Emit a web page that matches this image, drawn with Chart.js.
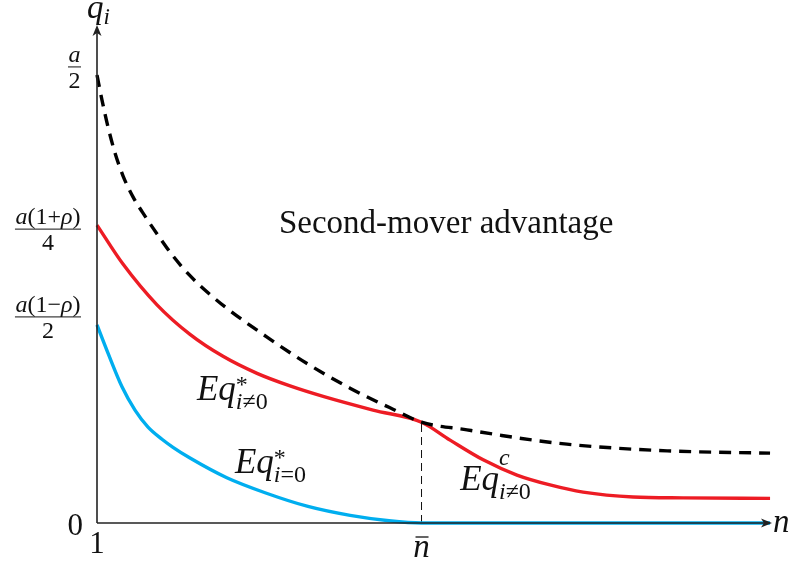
<!DOCTYPE html>
<html>
<head>
<meta charset="utf-8">
<script src="https://cdn.jsdelivr.net/npm/chart.js@4"></script>
<style>
  body { margin: 0; background: #fff; }
  #chart { display: block; }
</style>
</head>
<body>
<canvas id="chart" width="794" height="566"></canvas>
<script>
// values (n on x, q_i on y, a/2 = 1)
const nBound = [1, 1.154, 1.339, 1.555, 1.801, 2.109, 2.479, 2.941, 3.342, 3.866, 4.421, 5.006, 6.239, 7.471, 8.797, 10.12, 11, 12.4, 13.42, 14.44, 15.48, 17.02, 18.57, 20.1, 21.74];
const qBound = [1.0, 0.944, 0.884, 0.826, 0.775, 0.728, 0.685, 0.636, 0.596, 0.552, 0.514, 0.479, 0.415, 0.356, 0.301, 0.254, 0.225, 0.208, 0.196, 0.185, 0.176, 0.167, 0.161, 0.158, 0.156];

const nOthers = [1, 1.801, 2.849, 3.866, 4.883, 5.931, 6.948, 7.995, 9.505, 11, 11.88, 12.9, 13.94, 14.96, 15.98, 17.52, 19.06, 21.74];
const qOthers = [0.665, 0.578, 0.487, 0.421, 0.372, 0.334, 0.306, 0.282, 0.252, 0.225, 0.185, 0.141, 0.107, 0.085, 0.069, 0.058, 0.056, 0.055];

const nFirst = [1, 1.339, 1.77, 2.171, 2.572, 3.003, 3.342, 3.866, 5.0, 6.2, 7.5, 8.8, 10, 11, 21.74];
const qFirst = [0.442, 0.379, 0.304, 0.252, 0.214, 0.187, 0.169, 0.145, 0.101, 0.067, 0.037, 0.017, 0.005, 0, 0];

const nBar = 11;       // n-bar, where the curves meet
const qMeet = 0.225;

const yTickVals = [1.018, 0.656, 0.46];
const yTickLabels = [["a", "2"], ["a(1+ρ)", "4"], ["a(1−ρ)", "2"]];

const toPts = (xs, ys) => xs.map((x, i) => ({ x: x, y: ys[i] }));

const SERIF = '"Liberation Serif", "DejaVu Serif", serif';

// draw a run of pieces: [text, italic, size, dy, keepX]
function runs(ctx, x, y, parts) {
  let cx = x;
  for (const p of parts) {
    ctx.font = (p[1] ? 'italic ' : '') + p[2] + 'px ' + SERIF;
    ctx.fillText(p[0], cx, y + (p[3] || 0));
    if (!p[4]) cx += ctx.measureText(p[0]).width;
  }
  return cx - x;
}

// numerator with italic a and rho
function numParts(s, size) {
  return s.split('').map(ch => [ch, ch === 'a' || ch === 'ρ', size]);
}

function widthOf(ctx, parts) {
  let w = 0;
  for (const p of parts) {
    ctx.font = (p[1] ? 'italic ' : '') + p[2] + 'px ' + SERIF;
    if (!p[4]) w += ctx.measureText(p[0]).width;
  }
  return w;
}

const axesAndText = {
  id: 'axesAndText',
  afterDatasetsDraw(chart) {
    const ctx = chart.ctx;
    const xs = chart.scales.x, ys = chart.scales.y;
    const ca = chart.chartArea;
    const x0 = xs.getPixelForValue(1), y0 = ys.getPixelForValue(0);
    ctx.save();
    ctx.strokeStyle = '#222';
    ctx.fillStyle = '#222';
    ctx.lineWidth = 1.6;
    // x axis
    ctx.beginPath();
    ctx.moveTo(x0, y0);
    ctx.lineTo(ca.right - 6, y0);
    ctx.stroke();
    ctx.beginPath();
    ctx.moveTo(ca.right, y0);
    ctx.lineTo(ca.right - 11, y0 - 4.5);
    ctx.lineTo(ca.right - 8, y0);
    ctx.lineTo(ca.right - 11, y0 + 4.5);
    ctx.closePath();
    ctx.fill();
    // y axis
    ctx.beginPath();
    ctx.moveTo(x0, y0);
    ctx.lineTo(x0, ca.top + 6);
    ctx.stroke();
    ctx.beginPath();
    ctx.moveTo(x0, ca.top);
    ctx.lineTo(x0 - 4.5, ca.top + 11);
    ctx.lineTo(x0, ca.top + 8);
    ctx.lineTo(x0 + 4.5, ca.top + 11);
    ctx.closePath();
    ctx.fill();
    ctx.restore();
  },
  afterDraw(chart) {
    const ctx = chart.ctx;
    const xs = chart.scales.x, ys = chart.scales.y;
    const ca = chart.chartArea;
    const x0 = xs.getPixelForValue(1), y0 = ys.getPixelForValue(0);
    ctx.save();
    ctx.fillStyle = '#111';
    ctx.strokeStyle = '#111';
    ctx.textBaseline = 'alphabetic';
    ctx.textAlign = 'left';

    // axis titles
    runs(ctx, x0 - 10, ca.top - 7, [['q', true, 33], ['i', true, 23, 6]]);
    runs(ctx, ca.right + 1, y0 + 9, [['n', true, 33]]);

    // tick labels on x
    ctx.textAlign = 'center';
    ctx.font = '31px ' + SERIF;
    ctx.fillText('1', x0, y0 + 30);
    const xb = xs.getPixelForValue(nBar);
    ctx.font = 'italic 33px ' + SERIF;
    ctx.fillText('n', xb, y0 + 34);
    ctx.lineWidth = 1.3;
    ctx.beginPath();
    ctx.moveTo(xb - 6, y0 + 14);
    ctx.lineTo(xb + 7, y0 + 14);
    ctx.stroke();

    // tick labels on y
    ctx.textAlign = 'right';
    ctx.font = '31px ' + SERIF;
    ctx.fillText('0', x0 - 14, y0 + 12);
    ctx.textAlign = 'left';
    const right = x0 - 16;
    yTickVals.forEach((v, i) => {
      const yb = ys.getPixelForValue(v);
      const num = numParts(yTickLabels[i][0], 24);
      const den = [[yTickLabels[i][1], false, 24]];
      const wn = widthOf(ctx, num), wd = widthOf(ctx, den);
      const w = Math.max(wn, wd) + 1;
      const cx = right - w / 2;
      runs(ctx, cx - wn / 2, yb - 5, num);
      runs(ctx, cx - wd / 2, yb + 21, den);
      ctx.lineWidth = 1;
      ctx.beginPath();
      ctx.moveTo(right - w, yb);
      ctx.lineTo(right, yb);
      ctx.stroke();
    });

    // region text
    ctx.textAlign = 'center';
    ctx.font = '33px ' + SERIF;
    ctx.fillText('Second-mover advantage', xs.getPixelForValue(11.76), ys.getPixelForValue(0.647));
    ctx.textAlign = 'left';

    // curve labels
    const lab = (n, q, sup, supDy, sub) => {
      const px = xs.getPixelForValue(n), py = ys.getPixelForValue(q);
      const parts = [['E', true, 35], ['q', true, 35], [sup, sup === 'c', 24, supDy, true]];
      sub.forEach(s => parts.push([s[0], s[1], 24, 9]));
      runs(ctx, px, py, parts);
    };
    lab(4.08, 0.275, '*', -8, [['i', true], ['≠0', false]]);
    lab(5.25, 0.112, '*', -8, [['i', true], ['=0', false]]);
    lab(12.19, 0.074, 'c', -25, [['i', true], ['≠0', false]]);

    ctx.restore();
  }
};

new Chart(document.getElementById('chart'), {
  type: 'line',
  data: {
    datasets: [
      {
        label: 'bound',
        data: toPts(nBound, qBound),
        borderColor: '#000',
        borderWidth: 3.4,
        borderDash: [12, 8],
        cubicInterpolationMode: 'monotone',
        pointRadius: 0,
        order: 0
      },
      {
        label: 'Eq others',
        data: toPts(nOthers, qOthers),
        borderColor: '#ED1C24',
        borderWidth: 3.4,
        cubicInterpolationMode: 'monotone',
        pointRadius: 0,
        order: 1
      },
      {
        label: 'Eq first',
        data: toPts(nFirst, qFirst),
        borderColor: '#00AEEF',
        borderWidth: 3.4,
        cubicInterpolationMode: 'monotone',
        pointRadius: 0,
        order: 2
      },
      {
        label: 'n bar',
        data: [{ x: nBar, y: 0 }, { x: nBar, y: qMeet }],
        borderColor: '#111',
        borderWidth: 1,
        borderDash: [8, 5],
        pointRadius: 0,
        order: 3
      }
    ]
  },
  options: {
    responsive: false,
    animation: false,
    devicePixelRatio: 1,
    clip: false,
    layout: { padding: { left: 97, right: 22, top: 25, bottom: 43 } },
    scales: {
      x: { type: 'linear', min: 1, max: 21.8, display: false },
      y: { min: 0, max: 1.1116, display: false }
    },
    plugins: { legend: { display: false }, tooltip: { enabled: false } }
  },
  plugins: [axesAndText]
});
</script>
</body>
</html>
